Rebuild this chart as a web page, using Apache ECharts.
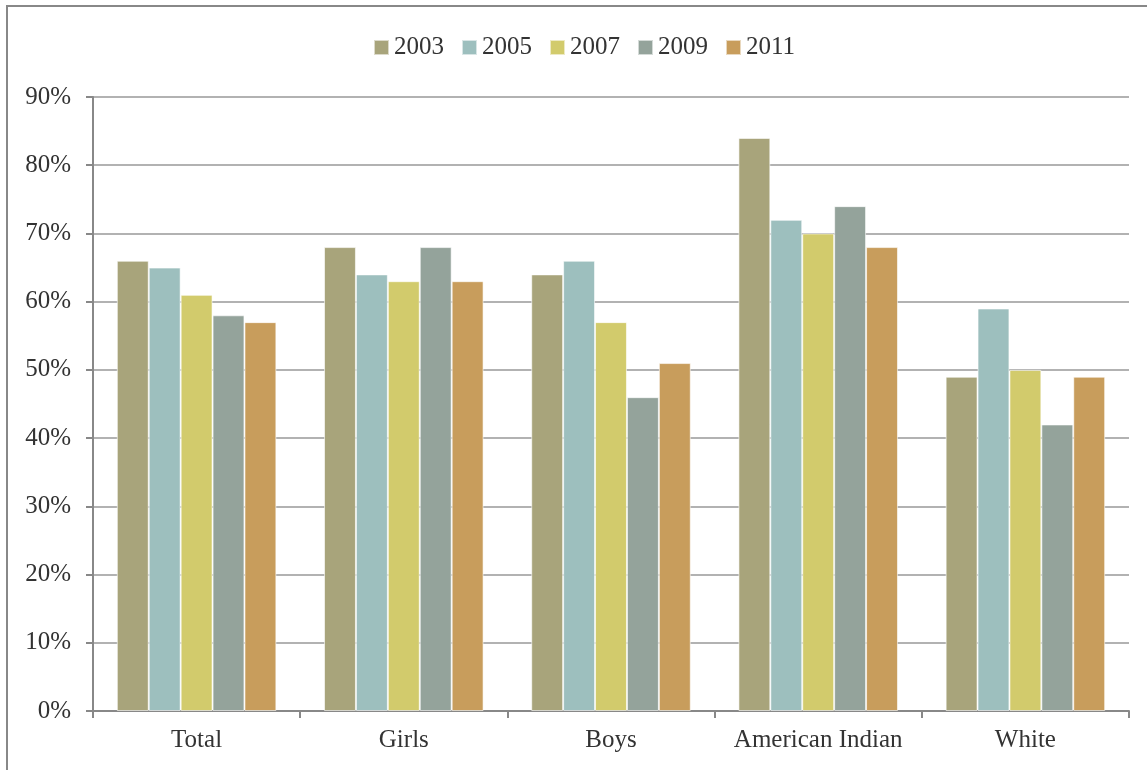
<!DOCTYPE html>
<html><head><meta charset="utf-8">
<script src="https://cdn.jsdelivr.net/npm/echarts@6/dist/echarts.min.js"></script>
<style>html,body{margin:0;padding:0;background:#fff;}#c{width:1147px;height:770px;}</style>
</head><body><div id="c"></div>
<script>
const categories = ['Total', 'Girls', 'Boys', 'American Indian', 'White'];
const seriesNames = ['2003', '2005', '2007', '2009', '2011'];
const v2003 = [66, 68, 64, 84, 49];
const v2005 = [65, 64, 66, 72, 59];
const v2007 = [61, 63, 57, 70, 50];
const v2009 = [58, 68, 46, 74, 42];
const v2011 = [57, 63, 51, 68, 49];
const colors = ['#A8A47B', '#9DBFBE', '#D2CB6C', '#94A39B', '#C89D5C'];
const values = [v2003, v2005, v2007, v2009, v2011];
const font = "'Liberation Serif', 'DejaVu Serif', serif";
const chart = echarts.init(document.getElementById('c'));
chart.setOption({
  animation: false,
  textStyle: { fontFamily: font },
  graphic: [{ type: 'rect', shape: { x: 7, y: 6, width: 1200, height: 800 }, style: { fill: 'none', stroke: '#888', lineWidth: 2 }, z: -1 }],
  legend: {
    top: 30, left: 368, itemWidth: 15, itemHeight: 15, itemGap: 17, icon: 'rect',
    textStyle: { fontFamily: font, fontSize: 25, color: '#333' },
    data: seriesNames
  },
  grid: { left: 93, right: 18, top: 97, bottom: 59 },
  xAxis: {
    type: 'category', data: categories,
    axisLine: { lineStyle: { color: '#888', width: 2 } },
    axisTick: { show: true, interval: 0, length: 7, lineStyle: { color: '#888', width: 2 } },
    axisLabel: { interval: 0, fontFamily: font, fontSize: 25, color: '#333', margin: 17 }
  },
  yAxis: {
    type: 'value', min: 0, max: 90, interval: 10,
    axisLine: { show: true, lineStyle: { color: '#888', width: 2 } },
    axisTick: { show: true, length: 7, lineStyle: { color: '#888', width: 2 } },
    axisLabel: { formatter: '{value}%', fontFamily: font, fontSize: 25, color: '#333', margin: 22 },
    splitLine: { lineStyle: { color: '#999', width: 1.5 } }
  },
  series: seriesNames.map((n, i) => ({
    name: n, type: 'bar', data: values[i],
    barGap: '0%', barCategoryGap: '23%',
    itemStyle: { color: colors[i], borderColor: 'rgba(255,255,255,0.6)', borderWidth: 1 }
  }))
});
</script></body></html>
